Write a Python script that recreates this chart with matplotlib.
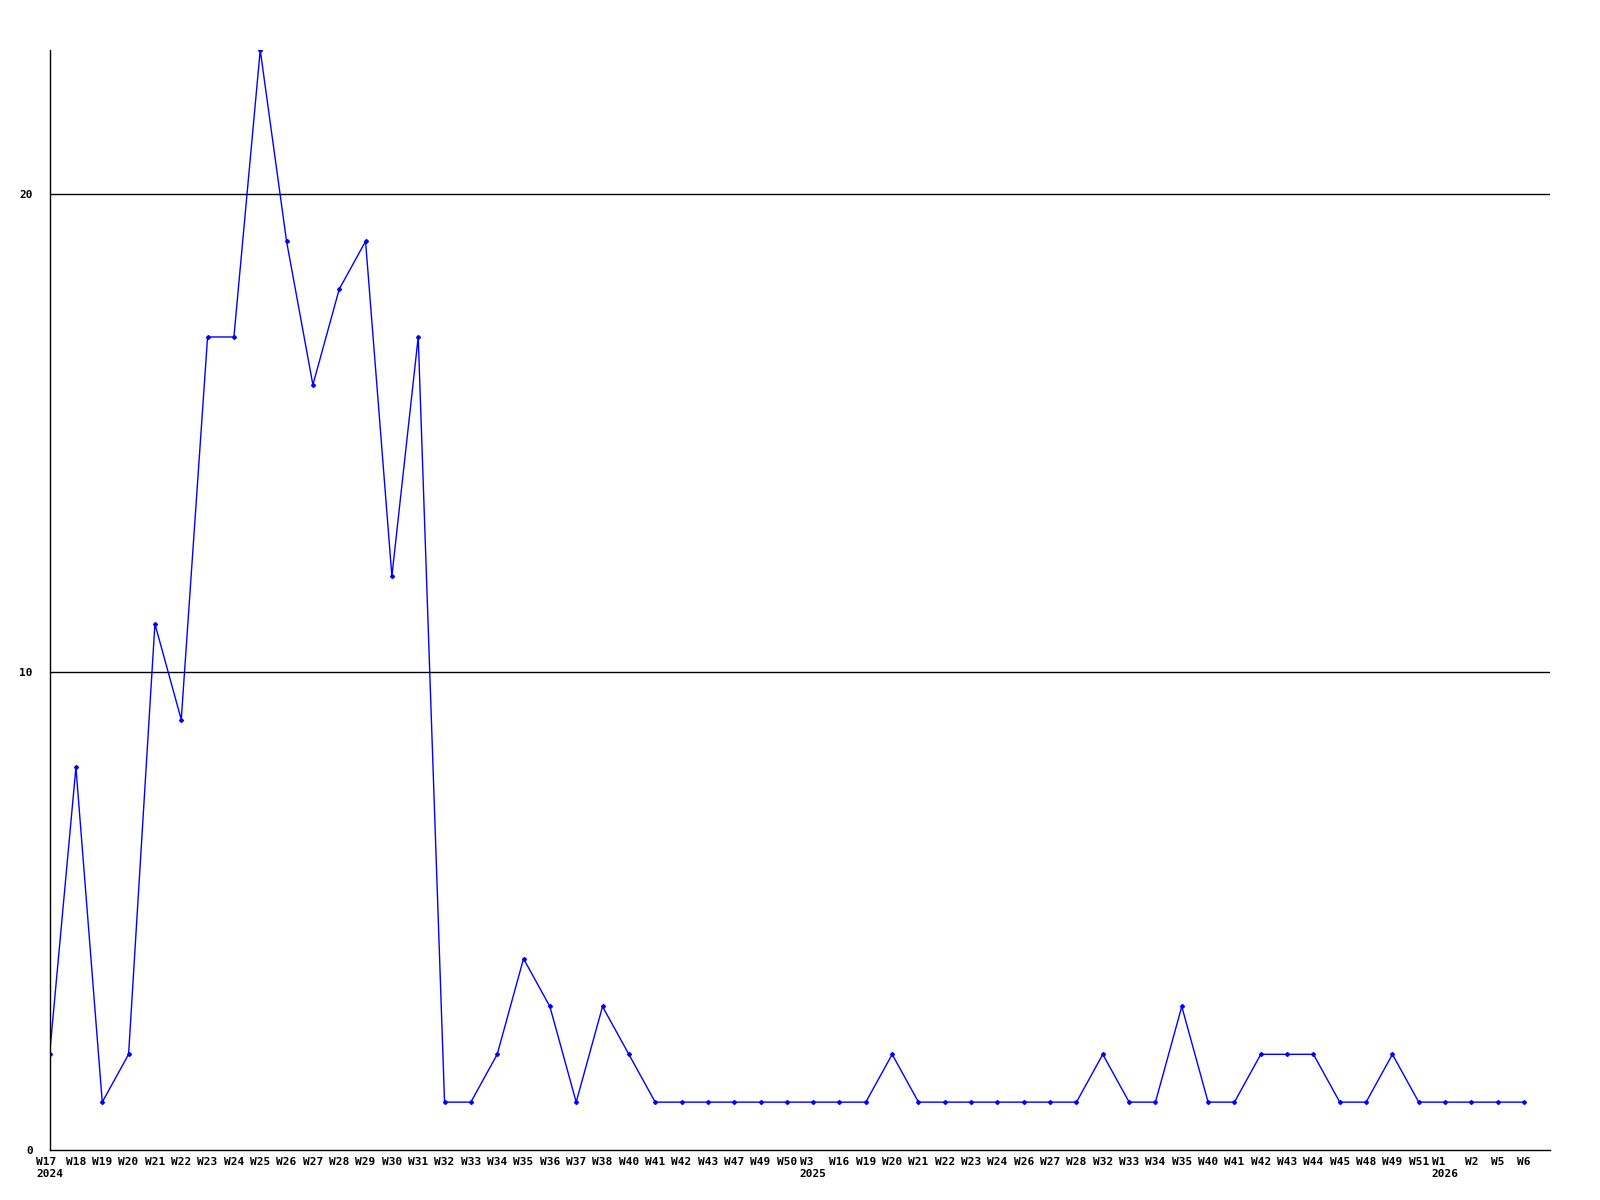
import matplotlib
matplotlib.use("Agg")
import matplotlib.pyplot as plt

# week labels (year shown under first week of each year)
weeks = ["W17", "W18", "W19", "W20", "W21", "W22", "W23", "W24", "W25", "W26",
         "W27", "W28", "W29", "W30", "W31", "W32", "W33", "W34", "W35", "W36",
         "W37", "W38", "W40", "W41", "W42", "W43", "W47", "W49", "W50",
         "W3", "W16", "W19", "W20", "W21", "W22", "W23", "W24", "W26", "W27",
         "W28", "W32", "W33", "W34", "W35", "W40", "W41", "W42", "W43", "W44",
         "W45", "W48", "W49", "W51",
         "W1", "W2", "W5", "W6"]
years = {0: "2024", 29: "2025", 53: "2026"}
counts = [2, 8, 1, 2, 11, 9, 17, 17, 23, 19,
          16, 18, 19, 12, 17, 1, 1, 2, 4, 3,
          1, 3, 2, 1, 1, 1, 1, 1, 1,
          1, 1, 1, 2, 1, 1, 1, 1, 1, 1,
          1, 2, 1, 1, 3, 1, 1, 2, 2, 2,
          1, 1, 2, 1,
          1, 1, 1, 1]

fig = plt.figure(figsize=(16, 12), dpi=100)
ax = fig.add_axes([0.031, 0.0417, 0.938, 0.9166])

x = list(range(len(counts)))
ax.plot(x, counts, color="#0000ff", linewidth=1, marker="D", markersize=2)

ax.set_xlim(0, len(counts))
ax.set_ylim(0, 23)

for y in [10, 20]:
    ax.axhline(y, color="black", linewidth=1, zorder=0)

for s in ["top", "right"]:
    ax.spines[s].set_visible(False)
ax.spines["left"].set_linewidth(1)
ax.spines["bottom"].set_linewidth(1)

labels = []
for i, w in enumerate(weeks):
    if i in years:
        labels.append(w + "\n" + years[i])
    else:
        labels.append(w)
ax.set_xticks(x)
ax.set_xticklabels(labels, fontsize=8, fontweight="bold", family="DejaVu Sans Mono",
                   va="top", linespacing=1.25)
for t in ax.get_xticklabels():
    t.set_multialignment("left")
    t.set_horizontalalignment("center")

ax.set_yticks([0, 10, 20])
ax.set_yticklabels(["0", "10", "20"], fontsize=8, fontweight="bold", family="DejaVu Sans Mono")
ax.tick_params(axis="both", length=0, pad=5)
ax.tick_params(axis="y", pad=12)

fig.savefig("out.png", dpi=100)
plt.close(fig)
